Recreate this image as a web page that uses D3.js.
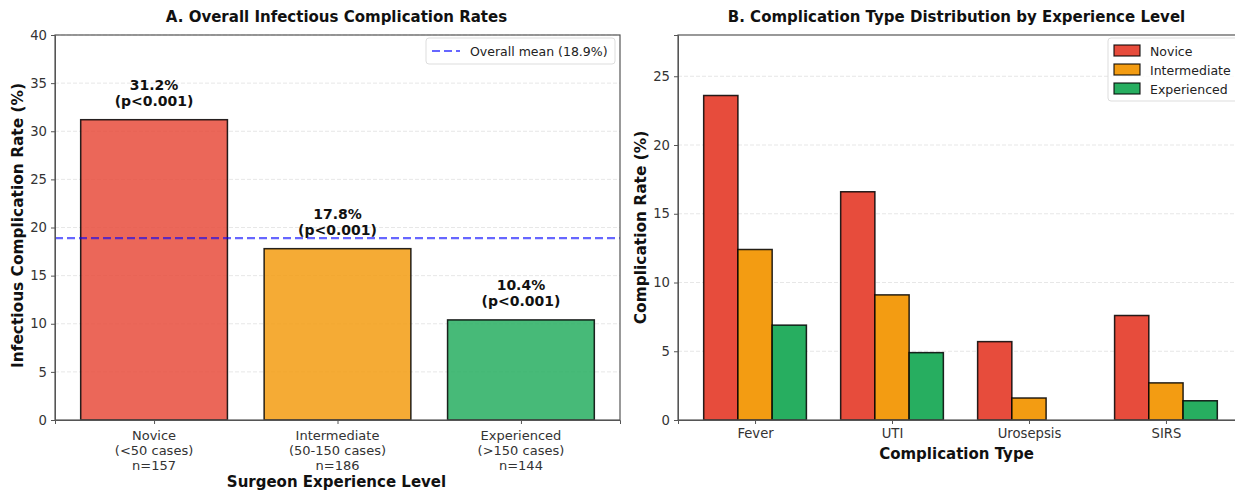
<!DOCTYPE html>
<html>
<head>
<meta charset="utf-8">
<script src="https://cdn.jsdelivr.net/npm/d3@7"></script>
<style>
  body { margin: 0; background: #fff; }
  svg text { font-family: "DejaVu Sans", sans-serif; fill: #222; }
</style>
</head>
<body>
<svg id="chart" width="1235" height="492"></svg>
<script>
// Panel A data
const levels = ["Novice", "Intermediate", "Experienced"];
const levelTicks = [
  ["Novice", "(<50 cases)", "n=157"],
  ["Intermediate", "(50-150 cases)", "n=186"],
  ["Experienced", "(>150 cases)", "n=144"]
];
const overallRates = [31.2, 17.8, 10.4];
const pLabels = ["(p<0.001)", "(p<0.001)", "(p<0.001)"];
const overallMean = 18.9;

// Panel B data
const compTypes = ["Fever", "UTI", "Urosepsis", "SIRS"];
const noviceRates = [23.6, 16.6, 5.7, 7.6];
const intermediateRates = [12.4, 9.1, 1.6, 2.7];
const experiencedRates = [6.9, 4.9, 0.0, 1.4];

const colors = ["#e74c3c", "#f39c12", "#27ae60"];

const svg = d3.select("#chart");
const plotTop = 35, plotBottom = 420;

// ---------- Panel A ----------
const a = svg.append("g");
const ax0 = 55, ax1 = 620;
const xA = d3.scaleLinear().domain([-0.54, 2.54]).range([ax0, ax1]);
const yA = d3.scaleLinear().domain([0, 40]).range([plotBottom, plotTop]);

// grid
a.selectAll("line.grid")
  .data(d3.range(5, 41, 5))
  .enter().append("line")
  .attr("x1", ax0).attr("x2", ax1)
  .attr("y1", d => yA(d)).attr("y2", d => yA(d))
  .attr("stroke", "#b0b0b0").attr("stroke-opacity", 0.3)
  .attr("stroke-dasharray", "4,2");

a.selectAll("rect.bar")
  .data(overallRates)
  .enter().append("rect")
  .attr("x", (d, i) => xA(i - 0.4))
  .attr("width", xA(0.4) - xA(-0.4))
  .attr("y", d => yA(d))
  .attr("height", d => yA(0) - yA(d))
  .attr("fill", (d, i) => colors[i]).attr("fill-opacity", 0.85)
  .attr("stroke", "#000").attr("stroke-opacity", 0.85).attr("stroke-width", 1.5);

// value labels
overallRates.forEach((d, i) => {
  const t = a.append("text")
    .attr("x", xA(i)).attr("text-anchor", "middle")
    .style("font-size", "14px").style("font-weight", "bold").style("fill", "#111");
  t.append("tspan").attr("x", xA(i)).attr("y", yA(d + 1) - 20).text(d.toFixed(1) + "%");
  t.append("tspan").attr("x", xA(i)).attr("y", yA(d + 1) - 4).text(pLabels[i]);
});

// mean line
a.append("line")
  .attr("x1", ax0).attr("x2", ax1)
  .attr("y1", yA(overallMean)).attr("y2", yA(overallMean))
  .attr("stroke", "#0000ff").attr("stroke-opacity", 0.6)
  .attr("stroke-width", 2.2).attr("stroke-dasharray", "8,4");

// axes
a.append("g").attr("transform", `translate(${ax0},0)`)
  .call(d3.axisLeft(yA).tickValues(d3.range(0, 41, 5)).tickSize(4).tickPadding(4));
a.append("g").attr("transform", `translate(0,${plotBottom})`)
  .call(d3.axisBottom(xA).tickValues([0, 1, 2]).tickSize(4).tickFormat(""));
levelTicks.forEach((lines, i) => {
  const t = a.append("text").attr("text-anchor", "middle").style("font-size", "13px").style("fill", "#333");
  lines.forEach((s, j) => t.append("tspan").attr("x", xA(i)).attr("y", 440 + j * 15).text(s));
});

a.append("rect").attr("x", ax0).attr("y", plotTop).attr("width", ax1 - ax0).attr("height", plotBottom - plotTop)
  .attr("fill", "none").attr("stroke", "#555").attr("stroke-width", 1.2);

a.append("text").attr("x", (ax0 + ax1) / 2 - 1).attr("y", 22).attr("text-anchor", "middle")
  .style("font-size", "15px").style("font-weight", "bold").style("fill", "#111")
  .text("A. Overall Infectious Complication Rates");
a.append("text").attr("x", (ax0 + ax1) / 2 - 1).attr("y", 487).attr("text-anchor", "middle")
  .style("font-size", "15px").style("font-weight", "bold").style("fill", "#111")
  .text("Surgeon Experience Level");
a.append("text").attr("transform", `translate(23,${(plotTop + plotBottom) / 2 - 2}) rotate(-90)`)
  .attr("text-anchor", "middle").style("font-size", "15.4px").style("font-weight", "bold").style("fill", "#111")
  .text("Infectious Complication Rate (%)");

// legend A
const lgA = a.append("g").attr("transform", "translate(426,38)");
lgA.append("rect").attr("width", 189).attr("height", 26).attr("rx", 3)
  .attr("fill", "#fff").attr("fill-opacity", 0.8).attr("stroke", "#ddd");
lgA.append("line").attr("x1", 6).attr("x2", 34).attr("y1", 13).attr("y2", 13)
  .attr("stroke", "#0000ff").attr("stroke-opacity", 0.6).attr("stroke-width", 2.2).attr("stroke-dasharray", "8,4");
lgA.append("text").attr("x", 44).attr("y", 17.5).style("font-size", "12.5px").text("Overall mean (18.9%)");

// ---------- Panel B ----------
const b = svg.append("g");
const bx0 = 678, bx1 = 1243;
const xB = d3.scaleLinear().domain([-0.5625, 3.5625]).range([bx0, bx1]);
const yB = d3.scaleLinear().domain([0, 28]).range([plotBottom, plotTop]);
const series = [noviceRates, intermediateRates, experiencedRates];
const w = 0.25;

b.selectAll("line.grid")
  .data(d3.range(5, 26, 5))
  .enter().append("line")
  .attr("x1", bx0).attr("x2", bx1)
  .attr("y1", d => yB(d)).attr("y2", d => yB(d))
  .attr("stroke", "#b0b0b0").attr("stroke-opacity", 0.3)
  .attr("stroke-dasharray", "4,2");

series.forEach((vals, s) => {
  b.append("g").selectAll("rect")
    .data(vals)
    .enter().append("rect")
    .attr("x", (d, i) => xB(i + (s - 1) * w - w / 2))
    .attr("width", xB(w) - xB(0))
    .attr("y", d => yB(d))
    .attr("height", d => yB(0) - yB(d))
    .attr("fill", colors[s])
    .attr("stroke", "#000").attr("stroke-opacity", 0.85).attr("stroke-width", 1.5);
});

b.append("g").attr("transform", `translate(${bx0},0)`)
  .call(d3.axisLeft(yB).tickValues(d3.range(0, 26, 5)).tickSize(4).tickPadding(4));
b.append("g").attr("transform", `translate(0,${plotBottom})`)
  .call(d3.axisBottom(xB).tickValues([0, 1, 2, 3]).tickSize(4).tickPadding(5)
    .tickFormat(i => compTypes[i]));

b.append("rect").attr("x", bx0).attr("y", plotTop).attr("width", bx1 - bx0).attr("height", plotBottom - plotTop)
  .attr("fill", "none").attr("stroke", "#555").attr("stroke-width", 1.2);

b.append("text").attr("x", (bx0 + bx1) / 2 - 4).attr("y", 22).attr("text-anchor", "middle")
  .style("font-size", "15px").style("font-weight", "bold").style("fill", "#111")
  .text("B. Complication Type Distribution by Experience Level");
b.append("text").attr("x", (bx0 + bx1) / 2 - 4).attr("y", 459).attr("text-anchor", "middle")
  .style("font-size", "15px").style("font-weight", "bold").style("fill", "#111")
  .text("Complication Type");
b.append("text").attr("transform", `translate(646,${(plotTop + plotBottom) / 2}) rotate(-90)`)
  .attr("text-anchor", "middle").style("font-size", "15.4px").style("font-weight", "bold").style("fill", "#111")
  .text("Complication Rate (%)");

// legend B
const lgB = b.append("g").attr("transform", "translate(1108,38)");
lgB.append("rect").attr("width", 130).attr("height", 63).attr("rx", 3)
  .attr("fill", "#fff").attr("fill-opacity", 0.8).attr("stroke", "#ddd");
levels.forEach((name, i) => {
  lgB.append("rect").attr("x", 6).attr("y", 7 + i * 19).attr("width", 26).attr("height", 11)
    .attr("fill", colors[i]).attr("stroke", "#000").attr("stroke-opacity", 0.85).attr("stroke-width", 1.2);
  lgB.append("text").attr("x", 42).attr("y", 17.5 + i * 19).style("font-size", "12.5px").text(name);
});

// axis styling
svg.selectAll(".domain").attr("stroke", "#555");
svg.selectAll(".tick line").attr("stroke", "#555");
svg.selectAll(".tick text").style("font-size", "13.2px").style("fill", "#333")
  .style("font-family", "'DejaVu Sans', sans-serif");
</script>
</body>
</html>
